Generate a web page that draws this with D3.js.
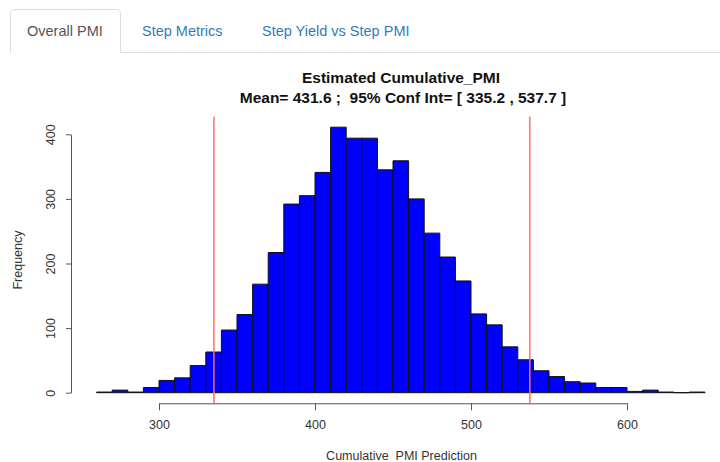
<!DOCTYPE html>
<html>
<head>
<meta charset="utf-8">
<script src="https://cdn.jsdelivr.net/npm/d3@7"></script>
<style>
  html, body { margin: 0; padding: 0; background: #fff; }
  svg { display: block; font-family: "Liberation Sans", Arial, Helvetica, sans-serif; }
</style>
</head>
<body>
<svg id="chart" width="720" height="462"></svg>
<script>
// ---- data ----
const tabLabels = ["Overall PMI", "Step Metrics", "Step Yield vs Step PMI"];
const binStarts = [260,270,280,290,300,310,320,330,340,350,360,370,380,390,400,410,420,430,440,450,
                   460,470,480,490,500,510,520,530,540,550,560,570,580,590,600,610,620,630,640];
const binWidth = 10;
const counts = [1,4,1,8,19,23,42,63,97,121,168,217,292,305,341,411,394,394,345,359,
                300,247,210,173,122,105,71,51,34,25,17,15,8,8,2,4,1,0,1];
const confInt = [335.2, 537.7];
const meanValue = 431.6;
const xTicks = [300, 400, 500, 600];
const yTicks = [0, 100, 200, 300, 400];
const titleLine1 = "Estimated Cumulative_PMI";
const titleLine2 = "Mean= 431.6 ;  95% Conf Int= [ 335.2 , 537.7 ]";
const xTitle = "Cumulative  PMI Prediction";
const yTitle = "Frequency";

const svg = d3.select("#chart");

// ---- tabs ----
const tabs = svg.append("g");
tabs.append("line").attr("x1", 121).attr("x2", 720).attr("y1", 52.5).attr("y2", 52.5)
  .attr("stroke", "#ddd").attr("stroke-width", 1);
tabs.append("path")
  .attr("d", "M10.5,53 L10.5,14 Q10.5,9.5 15,9.5 L116,9.5 Q120.5,9.5 120.5,14 L120.5,53")
  .attr("fill", "#fff").attr("stroke", "#ddd").attr("stroke-width", 1);
const tabX = [27, 142, 262];
tabs.selectAll("text.tab").data(tabLabels).join("text")
  .attr("class", "tab")
  .attr("x", (d, i) => tabX[i]).attr("y", 36)
  .attr("font-size", 14.5)
  .attr("fill", (d, i) => i === 0 ? "#555" : "#337ab7")
  .text(d => d);

// ---- scales ----
const x = d3.scaleLinear().domain([300, 600]).range([159, 627]);
const y = d3.scaleLinear().domain([0, 400]).range([392.7, 134.3]);
const plotTop = 116.6, plotBottom = 403.3;

// ---- bars (paths so that empty bins still show as a flat line) ----
svg.append("g").selectAll("path").data(binStarts).join("path")
  .attr("d", (d, i) => {
    const x0 = x(d), x1 = x(d + binWidth), y0 = y(0), y1 = y(counts[i]);
    return `M${x0},${y0}V${y1}H${x1}V${y0}Z`;
  })
  .attr("fill", "#0000ff")
  .attr("stroke", "#111")
  .attr("stroke-width", 1);

// ---- confidence lines ----
svg.append("g").selectAll("line").data(confInt).join("line")
  .attr("x1", d => x(d)).attr("x2", d => x(d))
  .attr("y1", plotTop).attr("y2", plotBottom)
  .attr("stroke", "#ff6f6f").attr("stroke-width", 1.5);

// ---- x axis ----
const xAxisScale = x.copy().domain([xTicks[0], xTicks[xTicks.length - 1]])
  .range([x(xTicks[0]), x(xTicks[xTicks.length - 1])]);
const gx = svg.append("g").attr("transform", `translate(0,${plotBottom})`)
  .call(d3.axisBottom(xAxisScale).tickValues(xTicks).tickSize(7).tickSizeOuter(0).tickPadding(10)
    .tickFormat(d3.format("d")));
gx.select(".domain").attr("stroke", "#555");
gx.selectAll(".tick line").attr("stroke", "#555");
gx.selectAll(".tick text").attr("font-size", 12.5).attr("fill", "#333")
  .attr("font-family", "Liberation Sans, Arial, sans-serif");

// ---- y axis ----
const axisX = 71;
const gy = svg.append("g").attr("transform", `translate(${axisX},0)`)
  .call(d3.axisLeft(y).tickValues(yTicks).tickSize(5).tickSizeOuter(0).tickFormat(d3.format("d")));
gy.select(".domain").attr("stroke", "#555");
gy.selectAll(".tick line").attr("stroke", "#555");
gy.selectAll(".tick text")
  .attr("x", 0).attr("dy", null)
  .attr("transform", "translate(-20,0) rotate(-90)")
  .attr("text-anchor", "middle")
  .attr("dominant-baseline", "central")
  .attr("font-size", 12.5).attr("fill", "#333")
  .attr("font-family", "Liberation Sans, Arial, sans-serif");

// ---- titles ----
svg.append("text").attr("x", 401).attr("y", 83).attr("text-anchor", "middle")
  .attr("font-size", 15.5).attr("font-weight", "bold").attr("fill", "#111")
  .text(titleLine1);
svg.append("text").attr("x", 403).attr("y", 103).attr("text-anchor", "middle")
  .attr("font-size", 15.5).attr("font-weight", "bold").attr("fill", "#111")
  .style("white-space", "pre")
  .text(titleLine2);

svg.append("text").attr("x", 401.5).attr("y", 459.5).attr("text-anchor", "middle")
  .attr("font-size", 12.5).attr("fill", "#333")
  .style("white-space", "pre")
  .text(xTitle);

svg.append("text").attr("transform", "translate(18,260) rotate(-90)")
  .attr("text-anchor", "middle").attr("dominant-baseline", "central")
  .attr("font-size", 12.5).attr("fill", "#333")
  .text(yTitle);
</script>
</body>
</html>
